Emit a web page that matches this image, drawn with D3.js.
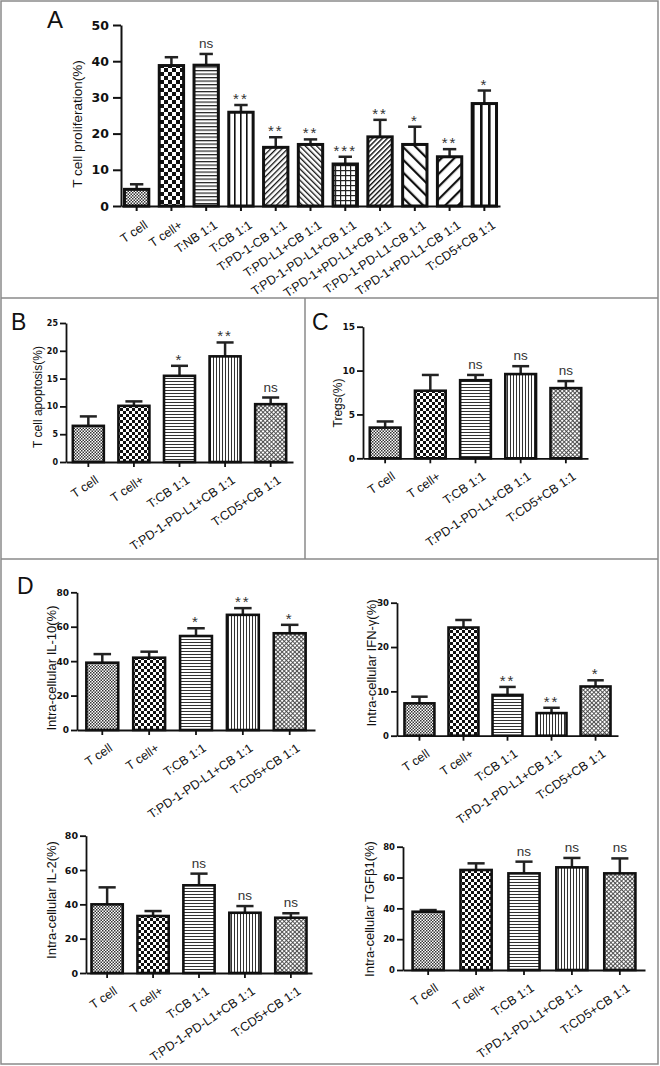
<!DOCTYPE html>
<html><head><meta charset="utf-8">
<script src="https://cdn.jsdelivr.net/npm/d3@7"></script>
<style>body{margin:0;background:#fff} svg{display:block}</style>
</head><body>
<script>
// ---------------- DATA ----------------
const categoriesA = ["T cell","T cell+","T:NB 1:1","T:CB 1:1","T:PD-1-CB 1:1","T:PD-L1+CB 1:1","T:PD-1-PD-L1+CB 1:1","T:PD-1+PD-L1+CB 1:1","T:PD-1-PD-L1-CB 1:1","T:PD-1+PD-L1-CB 1:1","T:CD5+CB 1:1"];
const valuesA = [4.6,38.8,38.9,25.9,16.2,17.0,11.6,19.1,17.0,13.6,28.3];
const semA    = [1.4,2.3,3.1,2.0,2.8,1.4,2.0,4.7,4.9,2.1,3.6];
const sigA    = ["","","ns","**","**","**","***","**","*","**","*"];
const ticksA  = [0,10,20,30,40,50];

const categoriesBD = ["T cell","T cell+","T:CB 1:1","T:PD-1-PD-L1+CB 1:1","T:CD5+CB 1:1"];

const valuesB = [6.5,10.1,15.5,19.0,10.4];
const semB    = [1.7,0.8,1.8,2.5,1.2];
const sigB    = ["","","*","**","ns"];
const ticksB  = [0,5,10,15,20,25];

const valuesC = [3.5,7.7,8.9,9.6,8.0];
const semC    = [0.7,1.8,0.6,0.9,0.8];
const sigC    = ["","","ns","ns","ns"];
const ticksC  = [0,5,10,15];

const valuesIL10 = [39.1,42.0,54.6,66.9,56.2];
const semIL10    = [5.0,3.5,4.5,3.9,4.9];
const sigIL10    = ["","","*","**","*"];
const ticksIL10  = [0,20,40,60,80];

const valuesIFN = [7.3,24.4,9.2,5.1,11.1];
const semIFN    = [1.5,1.7,1.8,1.2,1.4];
const sigIFN    = ["","","**","**","*"];
const ticksIFN  = [0,10,20,30];

const valuesIL2 = [40.0,33.2,51.1,35.1,32.2];
const semIL2    = [9.9,2.9,6.8,3.9,2.6];
const sigIL2    = ["","","ns","ns","ns"];
const ticksIL2  = [0,20,40,60,80];

const valuesTGF = [37.8,64.9,62.7,66.6,62.7];
const semTGF    = [1.1,4.3,7.6,6.1,9.7];
const sigTGF    = ["","","ns","ns","ns"];
const ticksTGF  = [0,20,40,60,80];

// ---------------- STYLE ----------------
const fillsA  = ["pFine","pCheckL","pH","pVWide","pDF","pDB","pGrid","pDF2","pDBW","pDFW","pVStripe"];
const fillsBD = ["pFine","pCheckS","pH3","pV3","pX"];

const W = 660, H = 1066;
const svg = d3.select("body").append("svg").attr("width", W).attr("height", H);
const defs = svg.append("defs");

function linePattern(id, spacing, width, angle, color) {
  const p = defs.append("pattern").attr("id", id).attr("patternUnits", "userSpaceOnUse")
    .attr("width", spacing).attr("height", spacing);
  if (angle) p.attr("patternTransform", `rotate(${angle})`);
  p.append("rect").attr("width", spacing).attr("height", spacing).attr("fill", "#fff");
  p.append("rect").attr("x", 0).attr("y", 0).attr("width", width).attr("height", spacing).attr("fill", color || "#111");
}
function hPattern(id, spacing, width, color) {
  const p = defs.append("pattern").attr("id", id).attr("patternUnits", "userSpaceOnUse")
    .attr("width", spacing).attr("height", spacing);
  p.append("rect").attr("width", spacing).attr("height", spacing).attr("fill", "#fff");
  p.append("rect").attr("x", 0).attr("y", 0).attr("width", spacing).attr("height", width).attr("fill", color || "#111");
}
function checker(id, s, color) {
  const p = defs.append("pattern").attr("id", id).attr("patternUnits", "userSpaceOnUse")
    .attr("width", 2*s).attr("height", 2*s);
  p.append("rect").attr("width", 2*s).attr("height", 2*s).attr("fill", "#fff");
  p.append("rect").attr("width", s).attr("height", s).attr("fill", color);
  p.append("rect").attr("x", s).attr("y", s).attr("width", s).attr("height", s).attr("fill", color);
}
checker("pFine", 1.5, "#333");
checker("pCheckL", 4, "#111");
checker("pCheckS", 3, "#111");
hPattern("pH", 3.5, 1.2, "#222");
hPattern("pH3", 3, 1, "#333");
linePattern("pVWide", 6, 1.6, 0, "#111");
linePattern("pV3", 3, 1, 0, "#333");
linePattern("pDF", 4, 1.3, 45, "#111");
linePattern("pDB", 4, 1.3, -45, "#111");
linePattern("pDF2", 3.5, 1.4, 45, "#111");
linePattern("pDBW", 9, 2.2, -45, "#111");
linePattern("pDFW", 9, 2.2, 45, "#111");
linePattern("pVStripe", 8, 2.6, 0, "#111");
{
  const p = defs.append("pattern").attr("id", "pGrid").attr("patternUnits", "userSpaceOnUse").attr("width", 5).attr("height", 5);
  p.append("rect").attr("width", 5).attr("height", 5).attr("fill", "#fff");
  p.append("rect").attr("width", 1.2).attr("height", 5).attr("fill", "#222");
  p.append("rect").attr("width", 5).attr("height", 1.2).attr("fill", "#222");
}
{
  const p = defs.append("pattern").attr("id", "pX").attr("patternUnits", "userSpaceOnUse").attr("width", 3).attr("height", 3)
    .attr("patternTransform", "rotate(45)");
  p.append("rect").attr("width", 3).attr("height", 3).attr("fill", "#fff");
  p.append("rect").attr("width", 0.9).attr("height", 3).attr("fill", "#444");
  p.append("rect").attr("width", 3).attr("height", 0.9).attr("fill", "#444");
}

// clip regions for each framed section
const clips = {A: [1, 1, 657, 297], B: [1, 298, 304, 261], C: [305, 298, 353, 261], D: [1, 559, 657, 505]};
Object.entries(clips).forEach(([k, r]) => {
  defs.append("clipPath").attr("id", "clip" + k).append("rect")
    .attr("x", r[0]).attr("y", r[1]).attr("width", r[2]).attr("height", r[3]);
});

// ---------------- FRAME ----------------
const frame = svg.append("g").attr("stroke", "#8a8a8a").attr("stroke-width", 1.5).attr("fill", "none");
frame.append("rect").attr("x", 1).attr("y", 1).attr("width", 657).attr("height", 1063);
frame.append("line").attr("x1", 1).attr("x2", 658).attr("y1", 298).attr("y2", 298);
frame.append("line").attr("x1", 1).attr("x2", 658).attr("y1", 559).attr("y2", 559);
frame.append("line").attr("x1", 305).attr("x2", 305).attr("y1", 298).attr("y2", 559);

const FONT = "'Liberation Sans', Arial, sans-serif";

function panel(cfg, cats, vals, sems, sigs, ticks, fills) {
  const g = svg.append("g").attr("clip-path", `url(#clip${cfg.clip})`);
  const y = d3.scaleLinear().domain([0, ticks[ticks.length - 1]]).range([cfg.yBot, cfg.yTop]);
  const x = d3.scaleBand().domain(cats).range([cfg.x0, cfg.x1]).paddingInner(cfg.pi).paddingOuter(cfg.po);
  const bw = x.bandwidth();

  // error bars
  const eb = g.append("g").attr("stroke", "#222").attr("stroke-width", cfg.ebw);
  cats.forEach((c, i) => {
    const cx = x(c) + bw / 2;
    const top = y(vals[i] + sems[i]);
    eb.append("line").attr("x1", cx).attr("x2", cx).attr("y1", y(vals[i])).attr("y2", top);
    eb.append("line").attr("x1", cx - bw * cfg.cap / 2).attr("x2", cx + bw * cfg.cap / 2).attr("y1", top).attr("y2", top);
  });

  // bars
  g.append("g").selectAll("rect").data(cats).join("rect")
    .attr("x", d => x(d)).attr("width", bw)
    .attr("y", (d, i) => y(vals[i])).attr("height", (d, i) => y(0) - y(vals[i]))
    .attr("fill", (d, i) => `url(#${fills[i]})`)
    .attr("stroke", "#111").attr("stroke-width", cfg.sw);

  // significance
  g.append("g").selectAll("text").data(cats).join("text")
    .attr("x", d => x(d) + bw / 2)
    .attr("y", (d, i) => y(vals[i] + sems[i]) - (sigs[i] === "ns" ? cfg.nsOff : cfg.starOff))
    .attr("text-anchor", "middle")
    .attr("font-family", FONT)
    .attr("font-size", (d, i) => sigs[i] === "ns" ? cfg.nsSize : cfg.starSize)
    .attr("letter-spacing", (d, i) => sigs[i] === "ns" ? 0 : 2)
    .attr("fill", "#333")
    .text((d, i) => sigs[i]);

  // y axis
  const ya = d3.axisLeft(y).tickValues(ticks).tickSize(cfg.tick).tickPadding(cfg.tpad).tickSizeOuter(0).tickFormat(d3.format("d"));
  const yg = g.append("g").attr("transform", `translate(${cfg.x0},0)`).call(ya);
  yg.select(".domain").attr("stroke", "#111").attr("stroke-width", cfg.aw);
  yg.selectAll(".tick line").attr("stroke", "#111").attr("stroke-width", cfg.aw);
  yg.selectAll(".tick text").attr("font-family", "'DejaVu Sans', sans-serif").attr("font-weight", "bold")
    .attr("font-size", cfg.tfs).attr("fill", "#111");

  // x axis
  const xa = d3.axisBottom(x).tickSize(cfg.xtick).tickSizeOuter(0);
  const xg = g.append("g").attr("transform", `translate(0,${cfg.yBot})`).call(xa);
  xg.select(".domain").attr("stroke", "#111").attr("stroke-width", cfg.aw);
  xg.selectAll(".tick line").attr("stroke", "#111").attr("stroke-width", cfg.aw);
  xg.selectAll(".tick text")
    .attr("x", null).attr("y", null).attr("dy", null)
    .attr("text-anchor", "end")
    .attr("transform", `translate(${cfg.ldx},${cfg.ldy}) rotate(${cfg.angle})`)
    .attr("font-family", FONT).attr("font-size", cfg.lfs).attr("fill", "#111");

  // y label
  g.append("text")
    .attr("transform", `translate(${cfg.ylx},${cfg.yly}) rotate(-90)`)
    .attr("text-anchor", "middle").attr("dominant-baseline", "central")
    .attr("font-family", FONT).attr("font-size", cfg.ylfs).attr("fill", "#111")
    .text(cfg.ylabel);

  if (cfg.letter) {
    g.append("text").attr("x", cfg.lx).attr("y", cfg.ly)
      .attr("font-family", FONT).attr("font-size", cfg.lsz).attr("fill", "#111")
      .text(cfg.letter);
  }
}

const common = {pi: 0.32, po: 0.15, sw: 2.6, ebw: 2.5, cap: 0.55, aw: 1.8, tick: 6, tpad: 2, xtick: 5,
  angle: -34, ldx: 11, ldy: 20, lfs: 12.5, tfs: 9, ylfs: 13, starSize: 15, nsSize: 13.5, starOff: 1, nsOff: 6, lsz: 23};

panel(Object.assign({}, common, {clip: "A", x0: 121, x1: 500, yTop: 25, yBot: 206, pi: 0.3, po: 0.1, tick: 8, tpad: 4, tfs: 12.5, aw: 2, sw: 3,
  ylabel: "T cell proliferation(%)", ylx: 77, yly: 124, ylfs: 13.5, letter: "A", lx: 47, ly: 28, lsz: 24, ldx: 12, ldy: 21}),
  categoriesA, valuesA, semA, sigA, ticksA, fillsA);

panel(Object.assign({}, common, {clip: "B", x0: 66, x1: 293, yTop: 323, yBot: 462, tfs: 8,
  ylabel: "T cell apoptosis(%)", ylx: 38, yly: 397, ylfs: 12, letter: "B", lx: 11, ly: 330}),
  categoriesBD, valuesB, semB, sigB, ticksB, fillsBD);

panel(Object.assign({}, common, {clip: "C", x0: 363, x1: 588, yTop: 326.7, yBot: 458.3, tfs: 9,
  ylabel: "Tregs(%)", ylx: 338, yly: 403, ylfs: 12, letter: "C", lx: 312, ly: 330}),
  categoriesBD, valuesC, semC, sigC, ticksC, fillsBD);

panel(Object.assign({}, common, {clip: "D", x0: 77, x1: 315, yTop: 592.3, yBot: 730, po: 0.2, tfs: 9,
  ylabel: "Intra-cellular IL-10(%)", ylx: 51, yly: 668, letter: "D", lx: 17, ly: 594}),
  categoriesBD, valuesIL10, semIL10, sigIL10, ticksIL10, fillsBD);

panel(Object.assign({}, common, {clip: "D", x0: 397, x1: 618, yTop: 602.7, yBot: 735.7, po: 0.17, tfs: 8.5,
  ylabel: "Intra-cellular IFN-γ(%)", ylx: 371, yly: 663}),
  categoriesBD, valuesIFN, semIFN, sigIFN, ticksIFN, fillsBD);

panel(Object.assign({}, common, {clip: "D", x0: 86, x1: 312, yTop: 835.7, yBot: 973, po: 0.12, tfs: 9.5,
  ylabel: "Intra-cellular IL-2(%)", ylx: 51, yly: 900}),
  categoriesBD, valuesIL2, semIL2, sigIL2, ticksIL2, fillsBD);

panel(Object.assign({}, common, {clip: "D", x0: 403, x1: 645, yTop: 846.7, yBot: 970, po: 0.2, pi: 0.35, tfs: 8.5,
  ylabel: "Intra-cellular TGFβ1(%)", ylx: 369, yly: 909}),
  categoriesBD, valuesTGF, semTGF, sigTGF, ticksTGF, fillsBD);
</script>
</body></html>
